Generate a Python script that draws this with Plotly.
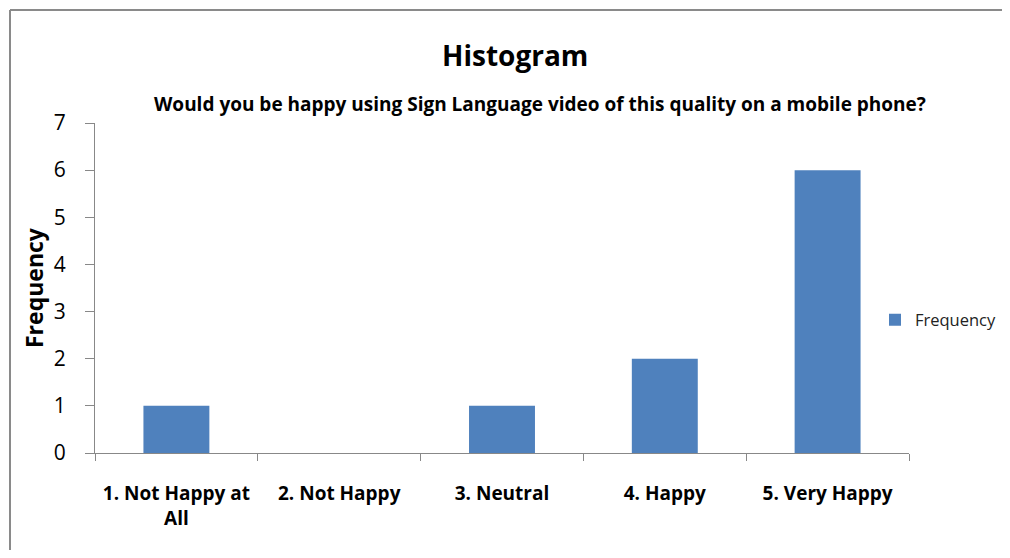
import plotly.graph_objects as go

categories = ["1. Not Happy at<br>All", "2. Not Happy", "3. Neutral", "4. Happy", "5. Very Happy"]
frequency = [1, 0, 1, 2, 6]
y_ticks = [0, 1, 2, 3, 4, 5, 6, 7]

OFF = 8  # page body margin
W, H = 1010 - 2 * OFF, 558 - 2 * OFF
# plot area in page pixel coordinates
L, R, T, B = 95, 909, 123, 453
pw, ph = R - L, B - T

def px(x):
    return (x - L) / pw

def py(y):
    return (B - y) / ph

FONT = "Open Sans"

fig = go.Figure()
fig.add_trace(go.Bar(
    x=categories, y=frequency, name="Frequency",
    marker=dict(color="#4F81BD", line=dict(width=0)),
    width=0.405,
))

fig.update_layout(
    width=W, height=H,
    margin=dict(l=L - OFF, r=W - (R - OFF), t=T - OFF, b=H - (B - OFF), autoexpand=False),
    paper_bgcolor="white", plot_bgcolor="white",
    font=dict(family=FONT, color="#000000"),
    showlegend=True,
    legend=dict(x=px(875), y=py(320), xanchor="left", yanchor="middle",
                font=dict(size=16.5, family=FONT, color="#222222"),
                bgcolor="rgba(0,0,0,0)", itemwidth=30),
    xaxis=dict(
        showline=True, linecolor="#888888", linewidth=1,
        ticks="outside", ticklen=7, tickcolor="#888888", tickson="boundaries",
        tickfont=dict(size=19, family=FONT, weight="bold"),
        ticklabelstandoff=23,
        showgrid=False, zeroline=False,
    ),
    yaxis=dict(
        range=[0, 7], tickvals=y_ticks,
        showline=True, linecolor="#888888", linewidth=1,
        ticks="outside", ticklen=9, tickcolor="#888888",
        tickfont=dict(size=21, family=FONT),
        ticklabelstandoff=15,
        showgrid=False, zeroline=False,
    ),
    annotations=[
        dict(text="<b>Histogram</b>", xref="paper", yref="paper",
             x=px(515), y=py(55), xanchor="center", yanchor="middle",
             showarrow=False, font=dict(size=28, family=FONT)),
        dict(text="<b>Would you be happy using Sign Language video of this quality on a mobile phone?</b>",
             xref="paper", yref="paper", x=px(540), y=py(104),
             xanchor="center", yanchor="middle", showarrow=False,
             font=dict(size=19, family=FONT)),
        dict(text="<b>Frequency</b>", xref="paper", yref="paper",
             x=px(34), y=py(288), xanchor="center", yanchor="middle",
             textangle=-90, showarrow=False, font=dict(size=23, family=FONT)),
    ],
    shapes=[
        dict(type="line", xref="paper", yref="paper",
             x0=px(10), x1=px(1015), y0=py(10), y1=py(10),
             line=dict(color="#8a8a8a", width=2)),
        dict(type="line", xref="paper", yref="paper",
             x0=px(10), x1=px(10), y0=py(10), y1=py(570),
             line=dict(color="#8a8a8a", width=2)),
    ],
)

fig.write_html("out.html")
